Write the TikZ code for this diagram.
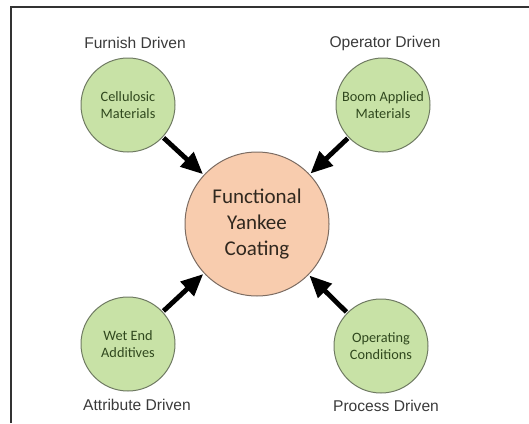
\documentclass[tikz,border=0pt]{standalone}
\usepackage{fontspec}
\setmainfont{Liberation Sans}
\newfontfamily\calfont{Carlito}
\usetikzlibrary{arrows.meta}
\definecolor{greenfill}{HTML}{C8E2A6}
\definecolor{greenline}{HTML}{6F7A62}
\definecolor{greentext}{HTML}{30481E}
\definecolor{peachfill}{HTML}{F8CCAE}
\definecolor{peachline}{HTML}{7C6C62}
\definecolor{darktext}{HTML}{30281F}
\definecolor{labeltext}{HTML}{3A3A3A}
\definecolor{framecol}{HTML}{333333}
\tikzset{
  smallcircle/.style={circle, fill=greenfill, draw=greenline, line width=1pt,
    minimum size=94pt, inner sep=0pt, align=center, text=greentext,
    font=\calfont\fontsize{14.3}{17.5}\selectfont},
  bigcircle/.style={circle, fill=peachfill, draw=peachline, line width=1pt,
    minimum size=144pt, inner sep=0pt, align=center, text=darktext,
    font=\calfont\fontsize{21}{26.4}\selectfont},
  outerlabel/.style={text=labeltext, font=\fontsize{15.6}{18}\selectfont, inner sep=0pt},
  bigarrow/.style={line width=4.8pt, black, -{Triangle[length=22pt,width=19pt]}, shorten <=1pt, shorten >=1pt},
}
\begin{document}
\begin{tikzpicture}[x=1pt,y=-1pt]
\useasboundingbox (0,0) rectangle (529,423);
\draw[framecol, line width=2pt] (11,423) -- (11,7) -- (529,7);
\node[bigcircle] (center) at (257,224) {Functional\\Yankee\\Coating};
\node[smallcircle] (cell) at (128,105) {Cellulosic\\Materials};
\node[smallcircle] (boom) at (383,105) {Boom Applied\\Materials};
\node[smallcircle] (wet) at (128,344) {Wet End\\Additives};
\node[smallcircle] (oper) at (381,346) {Operating\\Conditions};
\node[outerlabel] (lfur) at (135,43) {Furnish Driven};
\node[outerlabel] (lop) at (385,43) {Operator Driven};
\node[outerlabel] (latt) at (137,405) {Attribute Driven};
\node[outerlabel] (lpro) at (386,406) {Process Driven};
\draw[bigarrow] (cell) -- (center);
\draw[bigarrow] (boom) -- (center);
\draw[bigarrow] (wet) -- (center);
\draw[bigarrow] (oper) -- (center);
\end{tikzpicture}
\end{document}
